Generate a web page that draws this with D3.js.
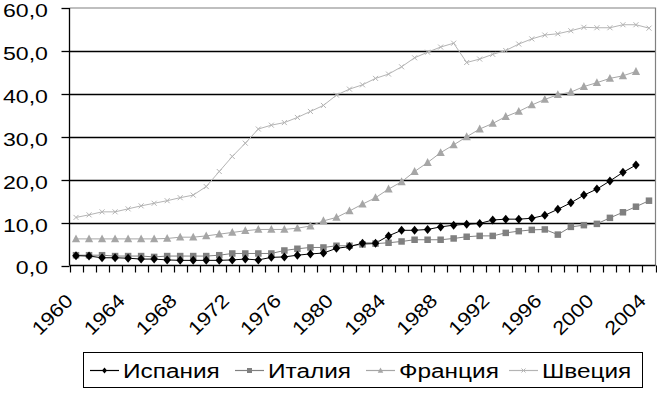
<!DOCTYPE html>
<html><head><meta charset="utf-8">
<script src="https://cdn.jsdelivr.net/npm/d3@7"></script>
<style>html,body{margin:0;padding:0;background:#fff;}svg{display:block;}text{font-family:"Liberation Sans",Arial,sans-serif;fill:#000;}</style>
</head><body><svg id="c" width="657" height="397"></svg>
<script>
const years = d3.range(1960, 2005).map(String);
const yTicks = [0, 10, 20, 30, 40, 50, 60];
const xLabelYears = ["1960","1964","1968","1972","1976","1980","1984","1988","1992","1996","2000","2004"];
const seriesNames = ["Испания", "Италия", "Франция", "Швеция"];
const spain = [2.3,2.2,1.8,1.8,1.7,1.5,1.5,1.3,1.2,1.2,1.2,1.2,1.3,1.5,1.3,1.9,2.0,2.4,2.7,
  2.9,4.0,4.4,5.2,5.2,6.9,8.2,8.2,8.4,9.0,9.4,9.6,9.8,10.6,10.8,10.8,11.0,11.7,13.1,14.6,16.4,17.8,19.7,21.7,23.4];
const italy = [2.4,2.4,2.4,2.2,2.2,2.2,2.0,2.2,2.2,2.2,2.2,2.4,2.8,2.8,2.8,2.8,3.5,3.9,4.2,
  4.2,4.6,4.6,4.9,5.1,5.3,5.6,6.0,6.0,6.0,6.3,6.7,6.9,6.9,7.6,8.0,8.3,8.4,7.2,9.0,9.4,9.7,11.1,12.4,13.7,15.1];
const france = [6.2,6.2,6.2,6.2,6.2,6.2,6.2,6.3,6.6,6.6,6.9,7.3,7.7,8.1,8.4,8.4,8.4,8.7,9.2,
  10.4,11.2,12.7,14.3,15.8,17.8,19.5,21.9,24.0,26.3,28.1,
  30.0,31.8,33.1,34.7,35.9,37.4,38.7,39.8,40.4,41.7,42.6,43.6,44.2,45.2];
const sweden = [11.2,11.8,12.5,12.5,13.2,13.9,14.5,15.1,15.8,16.4,18.4,21.9,25.4,28.5,31.8,32.7,33.3,34.5,35.9,
  37.3,39.7,41.1,42.1,43.6,44.6,46.3,48.4,49.7,50.9,51.8,
  47.3,48.1,49.2,50.1,51.6,52.8,53.7,54.0,54.7,55.5,55.4,55.4,56.1,56.1,55.3];

const svg = d3.select("#c");
svg.append("rect").attr("width",657).attr("height",397).attr("fill","#fff");

const L = 69.5, R = 655.5, T = 8, B = 265.5;
const x = d3.scaleBand().domain(years).range([L, R]).padding(0);
const y = d3.scaleLinear().domain([0, 60]).range([B, T]);
const cx = d => x(d) + x.bandwidth() / 2;

// gridlines
svg.append("g").selectAll("line").data(yTicks.filter(t => t > 0 && t < 60)).join("line")
  .attr("x1", L).attr("x2", R).attr("y1", d => Math.round(y(d)) + 0.5).attr("y2", d => Math.round(y(d)) + 0.5)
  .attr("stroke", "#000").attr("stroke-width", 1.3);
// plot border top/right
svg.append("path").attr("d", `M${L},${T}H${R}V${B}`).attr("fill","none").attr("stroke","#808080").attr("stroke-width",1.2);
// y axis
svg.append("line").attr("x1", L).attr("x2", L).attr("y1", T).attr("y2", B).attr("stroke","#000").attr("stroke-width",1.3);
svg.append("g").selectAll("line").data(yTicks).join("line")
  .attr("x1", L - 8).attr("x2", L).attr("y1", d => Math.round(y(d)) + 0.5).attr("y2", d => Math.round(y(d)) + 0.5)
  .attr("stroke","#000").attr("stroke-width",1.3);
svg.append("g").selectAll("text").data(yTicks).join("text")
  .attr("transform", d => `translate(48,${y(d) + 2.3}) scale(1.25,1)`)
  .attr("text-anchor","end").attr("dy","0.36em").attr("font-size",18.5)
  .text(d => d3.format(".1f")(d).replace(".", ","));
// x axis
svg.append("line").attr("x1", L).attr("x2", R).attr("y1", B).attr("y2", B).attr("stroke","#000").attr("stroke-width",1.3);
const bounds = years.map(d => x(d)).concat([R]);
svg.append("g").selectAll("line").data(bounds).join("line")
  .attr("x1", d => Math.round(d) + 0.5).attr("x2", d => Math.round(d) + 0.5).attr("y1", B).attr("y2", B + 7)
  .attr("stroke","#000").attr("stroke-width",1.2);
svg.append("g").selectAll("text").data(xLabelYears).join("text")
  .attr("transform", d => `translate(${cx(d) - 2},302) rotate(-45) scale(1.15,1)`)
  .attr("text-anchor","end").attr("font-size",19)
  .text(d => d);

// series
const series = [
  {name: seriesNames[0], values: spain, color: "#000", mk: "diamond"},
  {name: seriesNames[1], values: italy, color: "#808080", mk: "square"},
  {name: seriesNames[2], values: france, color: "#a6a6a6", mk: "triangle"},
  {name: seriesNames[3], values: sweden, color: "#b4b4b4", mk: "x"}
];
function marker(g, type, color, s) {
  if (type === "diamond") g.append("path").attr("d", `M0,${-s*0.6}L${s*0.5},0L0,${s*0.6}L${-s*0.5},0Z`).attr("fill", color);
  else if (type === "square") g.append("rect").attr("x", -s/2).attr("y", -s/2).attr("width", s).attr("height", s).attr("fill", color);
  else if (type === "triangle") g.append("path").attr("d", `M0,${-s*0.6}L${s*0.55},${s*0.45}L${-s*0.55},${s*0.45}Z`).attr("fill", color);
  else g.append("path").attr("d", `M${-s/2},${-s/2}L${s/2},${s/2}M${s/2},${-s/2}L${-s/2},${s/2}`).attr("stroke", color).attr("stroke-width",1);
}
const line = d3.line().x((v,i) => cx(years[i])).y(v => y(v));
const order = [3, 2, 1, 0];
order.forEach(k => {
  const s = series[k];
  svg.append("path").attr("d", line(s.values)).attr("fill","none").attr("stroke", s.color).attr("stroke-width", 1);
});
order.forEach(k => {
  const s = series[k];
  const size = s.mk === "x" ? 5 : (s.mk === "square" ? 6.5 : 7.5);
  s.values.forEach((v, i) => {
    const g = svg.append("g").attr("transform", `translate(${cx(years[i])},${y(v)})`);
    marker(g, s.mk, s.color, size);
  });
});

// legend
const lg = svg.append("g");
lg.append("rect").attr("x", 83.5).attr("y", 352.5).attr("width", 559).attr("height", 35).attr("fill","#fff").attr("stroke","#000").attr("stroke-width",1);
const lgX = [90, 235, 366, 509];
series.forEach((s, k) => {
  const x0 = lgX[k];
  lg.append("line").attr("x1", x0).attr("x2", x0 + 29).attr("y1", 370.5).attr("y2", 370.5).attr("stroke", s.color).attr("stroke-width", 1.2);
  const g = lg.append("g").attr("transform", `translate(${x0 + 14.5},370.5)`);
  marker(g, s.mk, s.color, s.mk === "x" ? 4 : 5);
  lg.append("text").attr("transform", `translate(${x0 + 33},377.5) scale(1.25,1)`).attr("font-size",19.5).text(s.name);
});
</script></body></html>
